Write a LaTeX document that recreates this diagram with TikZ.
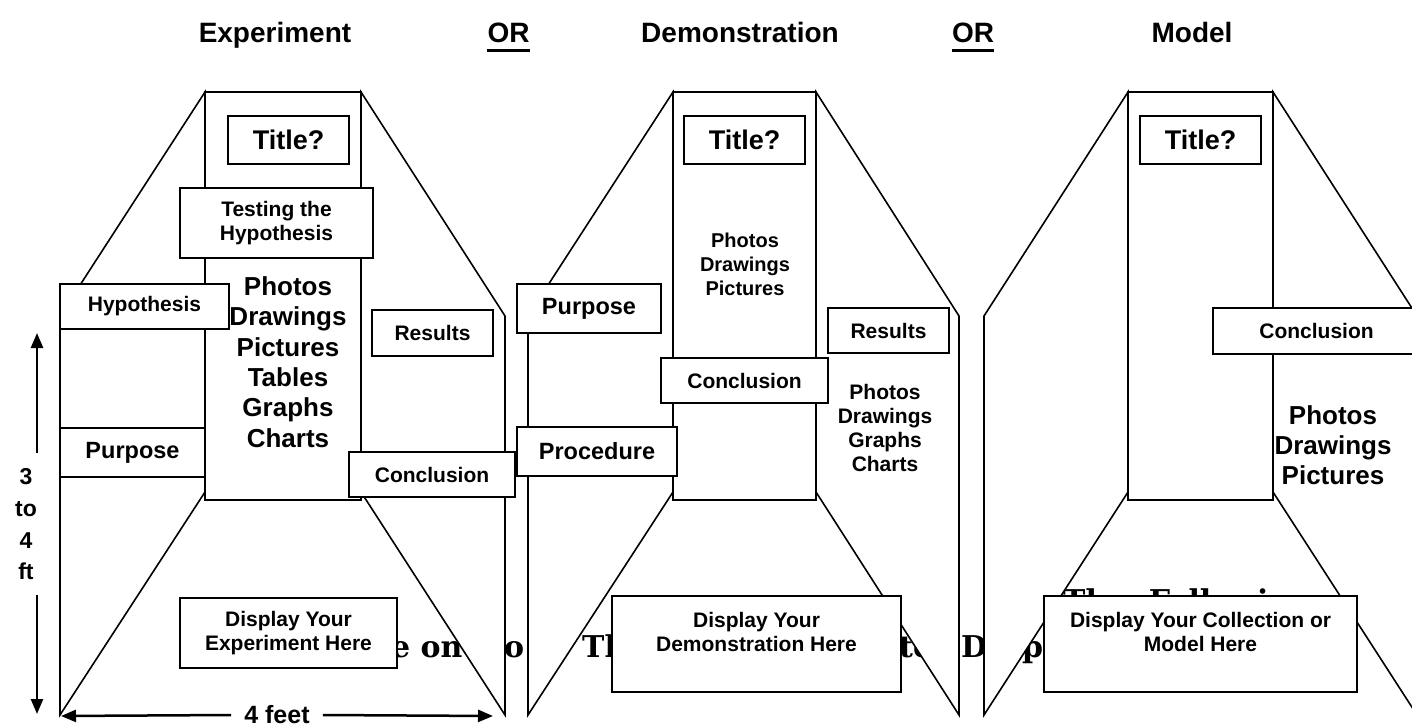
\documentclass[tikz,border=0pt]{standalone}
\usepackage{fontspec}
\newfontfamily\hv{Liberation Sans}
\newfontfamily\bgf{DejaVu Serif}
\usetikzlibrary{arrows.meta}
\begin{document}
\begin{tikzpicture}[x=1pt,y=-1pt,
  panel/.style={draw, fill=white, line width=1.6pt, line join=miter},
  box/.style={draw, fill=white, line width=2pt, inner sep=0pt, align=center,
    font={\hv\bfseries\fontsize{21}{24}\selectfont}},
  bigbox/.style={box, font={\hv\bfseries\fontsize{23.5}{26}\selectfont}},
  titlebox/.style={box, font={\hv\bfseries\fontsize{27}{30}\selectfont}},
  txt/.style={inner sep=0pt, align=center, font={\hv\bfseries\fontsize{21}{24}\selectfont}},
  bigtxt/.style={inner sep=0pt, align=center, font={\hv\bfseries\fontsize{26}{30.4}\selectfont}},
  smalltxt/.style={inner sep=0pt, align=center, font={\hv\bfseries\fontsize{20}{24}\selectfont}},
  head/.style={inner sep=0pt, anchor=base, font={\hv\bfseries\fontsize{28}{30}\selectfont}},
  bg/.style={inner sep=0pt, anchor=base west, font={\bgf\bfseries\fontsize{30}{30}\selectfont}},
  arr/.style={line width=2.5pt, -{Triangle[length=15pt,width=12pt]}}
]
\useasboundingbox (0,0) rectangle (1412,727);
\clip (0,0) rectangle (1412,727);

% background text (mostly hidden)
\node[bg] (bgA) at (391,657) {e on};
\node[bg] (bgB) at (504,657) {o};
\node[bg] (bgC) at (582,657) {Th};
\node[bg] (bgD) at (899,657) {te};
\node[bg] (bgE) at (961,657) {D};
\node[bg] (bgF) at (1022,657) {p};
\node[bg] (bgG) at (1063,611) {The\hspace{12pt} Following};

% headings
\node[head] (h1) at (275,43) {Experiment};
\node[head] (h2) at (508.5,43) {OR};
\node[head] (h3) at (740,43) {Demonstration};
\node[head] (h4) at (973,43) {OR};
\node[head] (h5) at (1192,43) {Model};
\draw[line width=3pt] ([yshift=-8pt]h2.base west) -- ([yshift=-8pt]h2.base east);
\draw[line width=3pt] ([yshift=-8pt]h4.base west) -- ([yshift=-8pt]h4.base east);

% panel 1
\draw[panel] (205,92) -- (60,316) -- (60,715) -- (205,492) -- cycle;
\draw[panel] (361,92) -- (505,316) -- (505,715) -- (361,492) -- cycle;
\draw[panel] (205,92) rectangle (361,500);
% panel 2
\draw[panel] (673,92) -- (528,316) -- (528,715) -- (673,492) -- cycle;
\draw[panel] (816,92) -- (959,316) -- (959,715) -- (816,492) -- cycle;
\draw[panel] (673,92) rectangle (816,500);
% panel 3
\draw[panel] (1128,92) -- (984,316) -- (984,715) -- (1128,492) -- cycle;
\draw[panel] (1273,92) -- (1417,316) -- (1417,715) -- (1273,492) -- cycle;
\draw[panel] (1128,92) rectangle (1273,500);

% panel 1 labels
\node[titlebox, minimum width=121pt, minimum height=48pt] (t1) at (288.5,140) {Title?};
\node[box, minimum width=193pt, minimum height=70pt] (test) at (276.5,223) {Testing the\\Hypothesis};
\node[box, minimum width=169pt, minimum height=45pt] (hyp) at (144.5,306.5) {Hypothesis};
\node[bigbox, minimum width=145pt, minimum height=49pt] (pur1) at (132.5,452.5) {Purpose};
\node[box, minimum width=121pt, minimum height=46pt] (res1) at (432.5,333) {Results};
\node[box, minimum width=166pt, minimum height=45pt] (con1) at (432,474.5) {Conclusion};
\node[box, minimum width=217pt, minimum height=70pt] (dis1) at (288.5,633) {Display Your\\Experiment Here};
\node[bigtxt] (list1) at (288,362) {Photos\\Drawings\\Pictures\\Tables\\Graphs\\Charts};

% panel 2 labels
\node[titlebox, minimum width=121pt, minimum height=48pt] (t2) at (744.5,140) {Title?};
\node[smalltxt] (list2) at (745,264) {Photos\\Drawings\\Pictures};
\node[bigbox, minimum width=144pt, minimum height=49pt] (pur2) at (589,308.5) {Purpose};
\node[bigbox, minimum width=160pt, minimum height=49pt] (proc) at (597,451.5) {Procedure};
\node[box, minimum width=167pt, minimum height=45pt] (con2) at (744.5,380.5) {Conclusion};
\node[box, minimum width=121pt, minimum height=45pt] (res2) at (888.5,330.5) {Results};
\node[txt] (list3) at (885,428) {Photos\\Drawings\\Graphs\\Charts};
\node[box, minimum width=289pt, minimum height=96pt] (dis2) at (756.5,644) {};
\node[txt] (dis2t) at (756.5,631.5) {Display Your\\Demonstration Here};

% panel 3 labels
\node[titlebox, minimum width=121pt, minimum height=48pt] (t3) at (1200.5,140) {Title?};
\node[box, minimum width=207pt, minimum height=46pt] (con3) at (1316.5,331) {Conclusion};
\node[bigtxt, font={\hv\bfseries\fontsize{26}{30}\selectfont}] (list4) at (1333,445) {Photos\\Drawings\\Pictures};
\node[box, minimum width=313pt, minimum height=96pt] (dis3) at (1200.5,644) {};
\node[txt] (dis3t) at (1200.5,631.5) {Display Your Collection or\\Model Here};

% dimensions
\node[inner sep=0pt, align=center, font={\hv\bfseries\fontsize{23}{31.7}\selectfont}] (ht) at (26,524.5) {3\\to\\4\\ft};
\coordinate (u0) at (37,453);
\coordinate (u1) at (37,333);
\coordinate (d0) at (37,595);
\coordinate (d1) at (37,714);
\draw[arr] (u0) -- (u1);
\draw[arr] (d0) -- (d1);
\node[inner sep=0pt, font={\hv\bfseries\fontsize{25}{27}\selectfont}] (wd) at (277,715) {4 feet};
\coordinate (wl) at (61,716);
\coordinate (wr) at (493,716);
\draw[arr] ([xshift=-13pt]wd.west) -- (wl);
\draw[arr] ([xshift=13pt]wd.east) -- (wr);
\end{tikzpicture}
\end{document}
